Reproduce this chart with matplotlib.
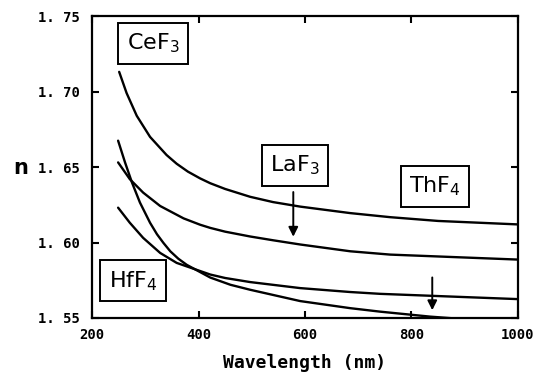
import numpy as np
import matplotlib.pyplot as plt

# Refractive index curves
wl_cef3 = [251, 265, 284, 309, 340, 359, 380, 403, 422, 450, 497, 540, 591, 685, 760, 850, 1000]
n_cef3 = [1.7131, 1.6990, 1.6840, 1.6700, 1.6580, 1.6522, 1.6470, 1.6425, 1.6393, 1.6355,
          1.6303, 1.6268, 1.6238, 1.6195, 1.6168, 1.6143, 1.6120]

wl_laf3 = [249, 271, 296, 328, 372, 403, 422, 450, 497, 540, 591, 685, 760, 1000]
n_laf3 = [1.6531, 1.6420, 1.6331, 1.6242, 1.6160, 1.6118, 1.6097, 1.6072, 1.6040, 1.6015,
          1.5987, 1.5942, 1.5920, 1.5887]

wl_hff4 = [249, 271, 296, 328, 359, 422, 450, 497, 591, 685, 741, 1000]
n_hff4 = [1.6231, 1.6131, 1.6031, 1.5931, 1.5865, 1.5788, 1.5765, 1.5738, 1.5698, 1.5672,
          1.5660, 1.5625]

wl_thf4 = [249, 262, 275, 290, 309, 322, 334, 347, 362, 378, 422, 460, 497, 591, 685, 741,
           835, 900, 1000]
n_thf4 = [1.6675, 1.6531, 1.6398, 1.6265, 1.6131, 1.6055, 1.5998, 1.5942, 1.5893, 1.5852,
          1.5768, 1.5720, 1.5687, 1.5612, 1.5565, 1.5542, 1.5509, 1.5492, 1.5475]

x_ticks = [200, 400, 600, 800, 1000]
y_ticks = [1.55, 1.60, 1.65, 1.70, 1.75]
y_tick_labels = ['1. 55', '1. 60', '1. 65', '1. 70', '1. 75']

fig = plt.figure(figsize=(5.5, 3.76), dpi=100)
ax = fig.add_axes([0.1673, 0.1543, 0.7745, 0.8027])

for wl, n in [(wl_cef3, n_cef3), (wl_laf3, n_laf3), (wl_hff4, n_hff4), (wl_thf4, n_thf4)]:
    ax.plot(wl, n, color='black', lw=1.7, solid_capstyle='round', solid_joinstyle='round')

ax.set_xlim(200, 1000)
ax.set_ylim(1.55, 1.75)
ax.set_xticks(x_ticks)
ax.set_yticks(y_ticks)
ax.set_yticklabels(y_tick_labels)

for lab in ax.get_xticklabels() + ax.get_yticklabels():
    lab.set_fontfamily('DejaVu Sans Mono')
    lab.set_fontweight('bold')
    lab.set_fontsize(10)

ax.tick_params(direction='in', length=5, width=1.5, top=True, right=True)
ax.tick_params(axis='x', pad=7)
ax.tick_params(axis='y', pad=9)
for s in ax.spines.values():
    s.set_linewidth(1.6)

ax.set_xlabel('Wavelength (nm)', family='DejaVu Sans Mono', weight='bold', size=13, labelpad=9)
fig.text(0.038, 0.553, 'n', family='DejaVu Sans', weight='bold', size=15, ha='center', va='center')

box = dict(boxstyle='square,pad=0.38', fc='white', ec='black', lw=1.4)
labels = [('CeF$_3$', 315, 1.732), ('LaF$_3$', 581, 1.651), ('ThF$_4$', 844, 1.637), ('HfF$_4$', 277, 1.5747)]
for txt, x, y in labels:
    ax.text(x, y, txt, ha='center', va='center', size=16, family='DejaVu Sans', bbox=box)

# arrows pointing at curves
ax.annotate('', xy=(578, 1.602), xytext=(578, 1.6353),
            arrowprops=dict(arrowstyle='-|>', color='black', lw=1.4, mutation_scale=14))
ax.annotate('', xy=(839, 1.5533), xytext=(839, 1.5787),
            arrowprops=dict(arrowstyle='-|>', color='black', lw=1.4, mutation_scale=14))

fig.savefig('out.png', dpi=100)
